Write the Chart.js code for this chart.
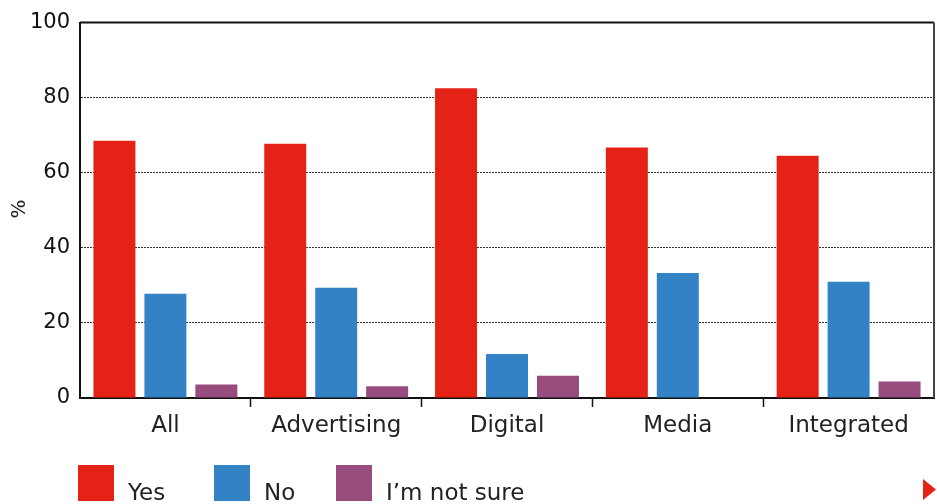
<!DOCTYPE html>
<html>
<head>
<meta charset="utf-8">
<script src="https://cdn.jsdelivr.net/npm/chart.js@4.4.1/dist/chart.umd.min.js"></script>
<style>
  html, body { margin: 0; padding: 0; background: #fff; }
  #wrap { width: 937px; height: 504px; }
</style>
</head>
<body>
<div id="wrap"><canvas id="survey" width="937" height="504"></canvas></div>
<script>
const categories = ['All', 'Advertising', 'Digital', 'Media', 'Integrated'];
const yesValues = [68.5, 67.7, 82.5, 66.7, 64.5];
const noValues = [27.8, 29.4, 11.7, 33.3, 31.0];
const notSureValues = [3.6, 3.1, 5.9, 0, 4.4];
const seriesNames = ['Yes', 'No', 'I\u2019m not sure'];
const yTicks = [0, 20, 40, 60, 80, 100];

const FONT = '"DejaVu Sans", sans-serif';
const colors = ['#e52216', '#3382c5', '#984b7d'];

// frame (top + right), custom legend and the little red arrow
const extras = {
  id: 'extras',
  afterDraw(chart) {
    const ctx = chart.ctx;
    const a = chart.chartArea;
    ctx.save();
    ctx.strokeStyle = '#111';
    ctx.lineWidth = 2;
    ctx.beginPath();
    ctx.moveTo(a.left, a.top);
    ctx.lineTo(a.right, a.top);
    ctx.stroke();
    ctx.strokeStyle = '#444';
    ctx.beginPath();
    ctx.moveTo(a.right, a.top);
    ctx.lineTo(a.right, a.bottom);
    ctx.stroke();

    // legend
    const boxX = [78, 214, 336];
    ctx.font = '23px ' + FONT;
    ctx.textBaseline = 'alphabetic';
    chart.data.datasets.forEach((ds, i) => {
      ctx.fillStyle = ds.backgroundColor;
      ctx.fillRect(boxX[i], 465, 36, 36);
      ctx.fillStyle = '#222';
      ctx.fillText(ds.label, boxX[i] + 50, 500);
    });

    // arrow
    ctx.fillStyle = '#e52216';
    ctx.beginPath();
    ctx.moveTo(923, 479);
    ctx.lineTo(936, 489.5);
    ctx.lineTo(923, 500);
    ctx.closePath();
    ctx.fill();

    // y title
    ctx.fillStyle = '#222';
    ctx.font = '20px ' + FONT;
    ctx.translate(20, 209);
    ctx.rotate(-Math.PI / 2);
    ctx.textAlign = 'center';
    ctx.textBaseline = 'middle';
    ctx.fillText('%', 0, 0);
    ctx.restore();
  }
};

new Chart(document.getElementById('survey'), {
  type: 'bar',
  data: {
    labels: categories,
    datasets: [
      { label: seriesNames[0], data: yesValues, backgroundColor: colors[0] },
      { label: seriesNames[1], data: noValues, backgroundColor: colors[1] },
      { label: seriesNames[2], data: notSureValues, backgroundColor: colors[2] }
    ]
  },
  options: {
    responsive: false,
    animation: false,
    layout: { padding: { top: 18, right: 3, left: 0, bottom: 0 } },
    datasets: { bar: { categoryPercentage: 0.895, barPercentage: 0.824 } },
    plugins: { legend: { display: false }, tooltip: { enabled: false } },
    scales: {
      x: {
        afterFit(scale) { scale.height = 106; },
        grid: {
          offset: true,
          drawOnChartArea: false,
          drawTicks: true,
          tickLength: 9,
          // no tick marks at the two outer edges (last one has no tick context)
          tickColor: ctx => (!ctx.tick || ctx.index === 0) ? 'rgba(0,0,0,0)' : '#111',
          tickWidth: 1.5
        },
        border: { display: true, color: '#111', width: 2 },
        ticks: { color: '#222', font: { family: FONT, size: 23 }, padding: 5 }
      },
      y: {
        min: 0,
        max: 100,
        afterFit(scale) { scale.width = 80; },
        afterBuildTicks(scale) { scale.ticks = yTicks.map(v => ({ value: v })); },
        grid: {
          drawTicks: false,
          color: ctx => (ctx.tick.value === 0 || ctx.tick.value === 100) ? 'rgba(0,0,0,0)' : '#333',
          lineWidth: 1
        },
        border: { display: true, color: '#111', width: 2, dash: [2, 1] },
        ticks: { color: '#111', font: { family: FONT, size: 21 }, padding: 10 }
      }
    }
  },
  plugins: [extras]
});
</script>
</body>
</html>
